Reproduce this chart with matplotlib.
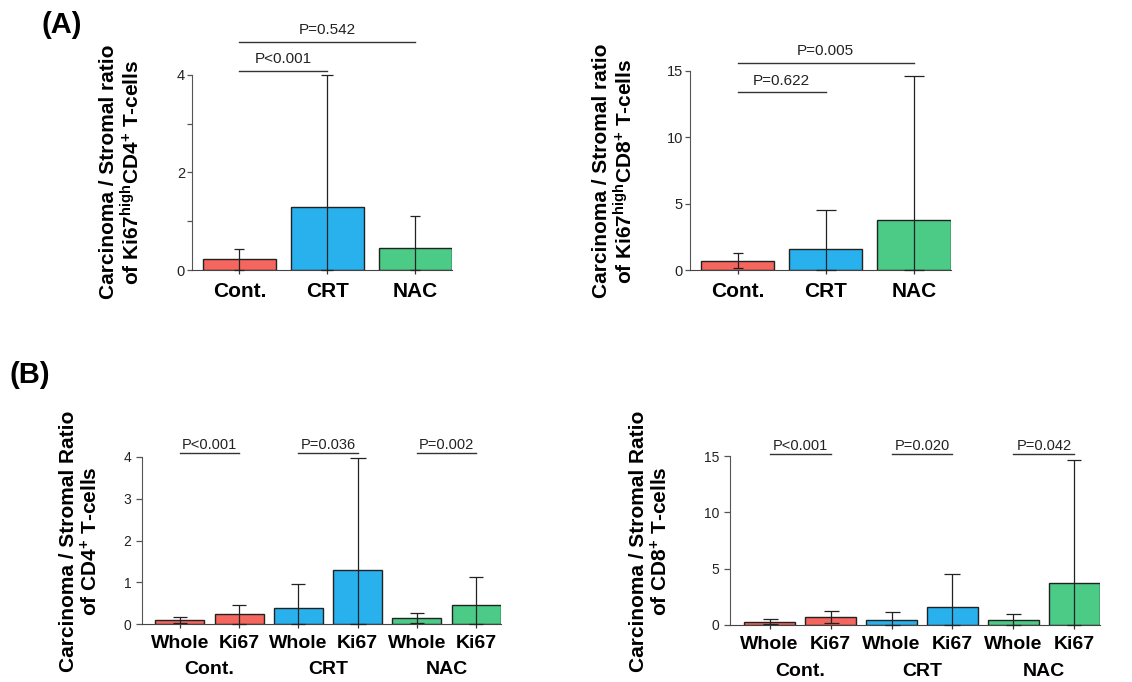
import numpy as np
import matplotlib
matplotlib.use('Agg')
import matplotlib.pyplot as plt

plt.rcParams['font.family'] = ['Liberation Sans', 'DejaVu Sans']
plt.rcParams['mathtext.default'] = 'regular'

# ---- data ----
a_groups = ['Cont.', 'CRT', 'NAC']
a_cd4_mean = [0.22, 1.29, 0.45]
a_cd4_upper = [0.44, 3.99, 1.11]
a_cd4_lower = [0.0, 0.0, 0.0]
a_cd8_mean = [0.70, 1.58, 3.74]
a_cd8_upper = [1.26, 4.55, 14.64]
a_cd8_lower = [0.17, 0.0, 0.0]

b_ticks = ['Whole', 'Ki67', 'Whole', 'Ki67', 'Whole', 'Ki67']
b_groups = ['Cont.', 'CRT', 'NAC']
b_cd4_mean = [0.088, 0.23, 0.375, 1.29, 0.144, 0.455]
b_cd4_upper = [0.16, 0.45, 0.97, 3.98, 0.255, 1.12]
b_cd4_lower = [0.02, 0.0, 0.0, 0.0, 0.03, 0.0]
b_cd8_mean = [0.27, 0.74, 0.47, 1.62, 0.44, 3.77]
b_cd8_upper = [0.50, 1.27, 1.12, 4.57, 1.00, 14.68]
b_cd8_lower = [0.10, 0.18, 0.0, 0.0, 0.0, 0.0]

# p-value brackets: (from bar, to bar, text, height)
a_cd4_p = [(0, 1, 'P<0.001', 4.08), (0, 2, 'P=0.542', 4.68)]
a_cd8_p = [(0, 1, 'P=0.622', 13.39), (0, 2, 'P=0.005', 15.62)]
b_cd4_p = [(0, 1, 'P<0.001', 4.09), (2, 3, 'P=0.036', 4.09), (4, 5, 'P=0.002', 4.09)]
b_cd8_p = [(0, 1, 'P<0.001', 15.2), (2, 3, 'P=0.020', 15.2), (4, 5, 'P=0.042', 15.2)]

red, blue, green = '#F4665E', '#29B1EE', '#4BCB86'
a_colors = [red, blue, green]
b_colors = [red, red, blue, blue, green, green]

W, H = 1132, 682
fig = plt.figure(figsize=(W / 100, H / 100), dpi=100)


def add_ax(x0, x1, yt, yb):
    return fig.add_axes([x0 / W, (H - yb) / H, (x1 - x0) / W, (yb - yt) / H])


def draw(ax, means, upper, lower, colors, caps, ylim, yticks, xlim):
    x = np.arange(len(means))
    ax.bar(x, means, width=0.83, color=colors, edgecolor='#222222', linewidth=1, zorder=2)
    for i in x:
        ax.errorbar(x[i], means[i], yerr=[[means[i] - lower[i]], [upper[i] - means[i]]],
                    fmt='none', ecolor='#222222', elinewidth=0.9, capsize=caps[i],
                    capthick=0.9, zorder=3, clip_on=False)
    ax.set_xlim(*xlim)
    ax.set_ylim(*ylim)
    ax.set_yticks(yticks)
    ax.set_xticks(x)
    for s in ['top', 'right']:
        ax.spines[s].set_visible(False)
    ax.spines['left'].set_color('#555555')
    ax.spines['bottom'].set_color('#444444')
    ax.tick_params(axis='y', length=3.6, width=0.9, pad=1.5, labelsize=10.5,
                   color='#555555', labelcolor='#222222')
    ax.tick_params(axis='x', length=3, width=0.9, color='#333333')


def brackets(ax, plist, off):
    for i0, i1, txt, y in plist:
        ax.plot([i0, i1], [y, y], color='#333333', lw=1, clip_on=False)
        ax.annotate(txt, xy=((i0 + i1) / 2, y), xytext=(0, off), textcoords='offset points',
                    ha='center', va='baseline', fontsize=11 if off > 4 else 10.5,
                    color='#222222', annotation_clip=False)


# (A) left: Ki67high CD4
ax1 = add_ax(192, 452, 75, 270)
draw(ax1, a_cd4_mean, a_cd4_upper, a_cd4_lower, a_colors, [3.8, 4.3, 3.8],
     (0, 4), [0, 2, 4], (-0.54, 2.42))
ax1.set_yticks([1, 3], minor=True)
ax1.tick_params(axis='y', which='minor', length=3.6, width=0.9, color='#555555')
ax1.set_xticklabels(a_groups, fontsize=15, fontweight='bold')
ax1.tick_params(axis='x', pad=5.8)
brackets(ax1, a_cd4_p, 5.5)

# (A) right: Ki67high CD8
ax2 = add_ax(690, 951, 71, 270)
draw(ax2, a_cd8_mean, a_cd8_upper, a_cd8_lower, a_colors, [3.3, 7, 7],
     (0, 15), [0, 5, 10, 15], (-0.54, 2.42))
ax2.set_xticklabels(a_groups, fontsize=15, fontweight='bold')
ax2.tick_params(axis='x', pad=5.8)
brackets(ax2, a_cd8_p, 5.5)

# (B) left: whole vs Ki67 CD4
ax3 = add_ax(142, 501, 457, 624)
draw(ax3, b_cd4_mean, b_cd4_upper, b_cd4_lower, b_colors, [4.7, 5.3, 5.3, 6, 4.7, 5.3],
     (0, 4), [0, 1, 2, 3, 4], (-0.64, 5.42))
ax3.tick_params(axis='y', length=4, pad=3.5, labelsize=10)

# (B) right: whole vs Ki67 CD8
ax4 = add_ax(730, 1100, 456, 625)
draw(ax4, b_cd8_mean, b_cd8_upper, b_cd8_lower, b_colors, [5.4, 5.4, 5.4, 6, 5.4, 4.7],
     (0, 15), [0, 5, 10, 15], (-0.65, 5.42))
ax4.tick_params(axis='y', length=4, pad=3.5, labelsize=10)

for ax, plist in [(ax3, b_cd4_p), (ax4, b_cd8_p)]:
    ax.set_xticklabels(b_ticks, fontsize=14, fontweight='bold')
    ax.tick_params(axis='x', pad=4.7)
    for k, g in enumerate(b_groups):
        ax.annotate(g, xy=(2 * k + 0.5, 0), xycoords=('data', 'axes fraction'),
                    xytext=(0, -27), textcoords='offset points', ha='center', va='top',
                    fontsize=14, fontweight='bold', annotation_clip=False)
    brackets(ax, plist, 3)

# y labels
ylabels = [
    (121, 172, 'Carcinoma / Stromal ratio\nof Ki67$^{high}$CD4$^{+}$ T-cells'),
    (614, 171, 'Carcinoma / Stromal ratio\nof Ki67$^{high}$CD8$^{+}$ T-cells'),
    (80, 541, 'Carcinoma / Stromal Ratio\nof CD4$^{+}$ T-cells'),
    (650, 541, 'Carcinoma / Stromal Ratio\nof CD8$^{+}$ T-cells'),
]
for px, py, txt in ylabels:
    fig.text(px / W, 1 - py / H, txt, rotation=90, ha='center', va='center',
             multialignment='center', fontsize=15, fontweight='bold', linespacing=1.1)

fig.text(62 / W, 1 - 25 / H, '(A)', fontsize=21, fontweight='bold', ha='center', va='center')
fig.text(30 / W, 1 - 375 / H, '(B)', fontsize=21, fontweight='bold', ha='center', va='center')

fig.savefig('out.png', dpi=100)
